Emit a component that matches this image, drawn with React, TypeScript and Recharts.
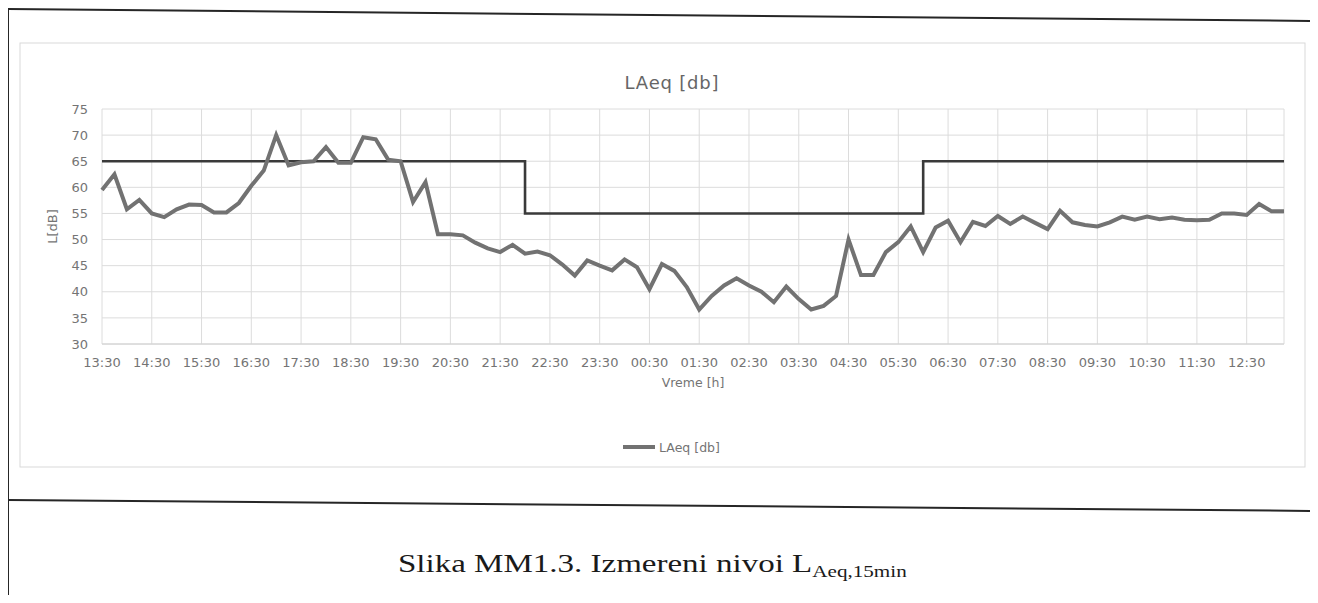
import React from "react";
import { LineChart, Line, XAxis, YAxis, CartesianGrid, Legend } from "recharts";

// LAeq, 15-minute values (13:30 -> 13:15 next day)
const LAEQ = [
  59.5, 62.5, 55.8, 57.6, 55.0, 54.3, 55.8, 56.7, 56.6, 55.2, 55.2, 57.0,
  60.3, 63.2, 70.0, 64.2, 64.8, 65.0, 67.7, 64.7, 64.7, 69.6, 69.2, 65.3,
  65.0, 57.2, 61.0, 51.0, 51.0, 50.8, 49.4, 48.3, 47.6, 49.0, 47.3, 47.7,
  47.0, 45.2, 43.1, 46.0, 45.0, 44.1, 46.2, 44.7, 40.5, 45.3, 44.0, 40.9,
  36.6, 39.2, 41.2, 42.6, 41.2, 40.0, 38.0, 41.0, 38.6, 36.6, 37.3, 39.2,
  50.0, 43.2, 43.2, 47.6, 49.5, 52.5, 47.6, 52.3, 53.6, 49.5, 53.4, 52.6,
  54.5, 53.0, 54.4, 53.2, 52.0, 55.5, 53.3, 52.8, 52.5, 53.3, 54.4, 53.8,
  54.4, 53.9, 54.2, 53.8, 53.7, 53.8, 55.0, 55.0, 54.7, 56.8, 55.4, 55.4,
];

// limit line: value holds from this time on
const LIMIT_STEPS: [string, number][] = [
  ["13:30", 65],
  ["22:00", 55],
  ["06:00", 65],
  ["13:15", 65],
];

const HOUR_TICKS = [
  "13:30", "14:30", "15:30", "16:30", "17:30", "18:30", "19:30", "20:30",
  "21:30", "22:30", "23:30", "00:30", "01:30", "02:30", "03:30", "04:30",
  "05:30", "06:30", "07:30", "08:30", "09:30", "10:30", "11:30", "12:30",
];

const Y_TICKS = [30, 35, 40, 45, 50, 55, 60, 65, 70, 75];

const START_MINUTES = 13 * 60 + 30;
const STEP_MINUTES = 15;

function clock(minutes: number) {
  const t = minutes % 1440;
  const h = String(Math.floor(t / 60)).padStart(2, "0");
  const m = String(t % 60).padStart(2, "0");
  return `${h}:${m}`;
}

const data = LAEQ.map((laeq, i) => {
  const time = clock(START_MINUTES + i * STEP_MINUTES);
  const step = LIMIT_STEPS.find((s) => s[0] === time);
  return { time, laeq, limit: step ? step[1] : null };
});

const FONT = "'DejaVu Sans', sans-serif";
const TEXT = "#747474";

export default function App() {
  return (
    <div
      style={{
        position: "relative",
        width: 1318,
        height: 603,
        margin: -8,
        background: "#fff",
        overflow: "hidden",
        fontFamily: FONT,
      }}
    >
      {/* page / table borders around the figure */}
      <svg width={1318} height={603} style={{ position: "absolute", left: 0, top: 0 }}>
        <rect x={20} y={43} width={1285} height={424} fill="none" stroke="#d9d9d9" strokeWidth={1} />
        <line x1={0} y1={9} x2={1318} y2={21} stroke="#262626" strokeWidth={2} />
        <line x1={8} y1={9} x2={8} y2={603} stroke="#262626" strokeWidth={2} />
        <line x1={8} y1={500} x2={1318} y2={511} stroke="#262626" strokeWidth={2} />
        <line x1={8} y1={601} x2={1318} y2={602} stroke="#262626" strokeWidth={2} />
      </svg>

      <div
        style={{
          position: "absolute",
          left: 0,
          width: 1344,
          top: 72,
          textAlign: "center",
          fontSize: 18,
          letterSpacing: 0.8,
          color: "#666",
        }}
      >
        LAeq [db]
      </div>

      <div style={{ position: "absolute", left: 20, top: 43 }}>
        <LineChart
          width={1285}
          height={424}
          data={data}
          margin={{ top: 66, right: 21, bottom: 73, left: 22 }}
        >
          <CartesianGrid stroke="#dcdcdc" strokeWidth={1} />
          <XAxis
            dataKey="time"
            ticks={HOUR_TICKS}
            interval={0}
            height={50}
            tickLine={false}
            axisLine={{ stroke: "#d0d0d0" }}
            tickMargin={8}
            tick={{ fontSize: 13, fill: TEXT, fontFamily: FONT }}
            label={{
              value: "Vreme [h]",
              position: "insideBottom",
              offset: 7,
              fontSize: 12.5,
              fill: TEXT,
              fontFamily: FONT,
            }}
          />
          <YAxis
            domain={[30, 75]}
            ticks={Y_TICKS}
            width={60}
            tickLine={false}
            axisLine={false}
            tickMargin={8}
            tick={{ fontSize: 13, fill: TEXT, fontFamily: FONT }}
            label={{
              value: "L[dB]",
              angle: -90,
              position: "insideLeft",
              offset: 10,
              fontSize: 13,
              fill: TEXT,
              fontFamily: FONT,
              style: { textAnchor: "middle" },
            }}
          />
          <Line
            dataKey="limit"
            type="stepAfter"
            connectNulls
            stroke="#3a3a3a"
            strokeWidth={2.6}
            dot={false}
            activeDot={false}
            legendType="none"
            isAnimationActive={false}
          />
          <Line
            dataKey="laeq"
            name="LAeq [db]"
            type="linear"
            stroke="#727272"
            strokeWidth={4}
            dot={false}
            activeDot={false}
            legendType="plainline"
            isAnimationActive={false}
          />
          <Legend
            verticalAlign="middle"
            align="center"
            iconSize={32}
            wrapperStyle={{ top: 388, left: 14, width: 1285 }}
            formatter={(value: string) => (
              <span style={{ color: TEXT, fontSize: 12.5, fontFamily: FONT }}>{value}</span>
            )}
          />
        </LineChart>
      </div>

      <div
        style={{
          position: "absolute",
          left: 398,
          top: 550,
          fontFamily: "'Liberation Serif', 'Times New Roman', serif",
          fontSize: 25,
          color: "#1a1a1a",
          whiteSpace: "nowrap",
          transform: "scaleX(1.32)",
          transformOrigin: "left center",
        }}
      >
        Slika MM1.3. Izmereni nivoi L
        <span style={{ fontSize: 16, position: "relative", top: 5 }}>Aeq,15min</span>
      </div>
    </div>
  );
}
